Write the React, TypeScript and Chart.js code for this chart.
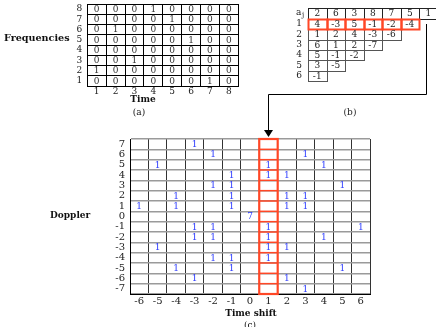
import React, { useEffect, useRef } from 'react';
import { Chart, registerables } from 'chart.js';

Chart.register(...registerables);

const SERIF = "'DejaVu Serif', 'Liberation Serif', serif";
const TEXT = '#222222';
const RED = '#ff4726';
const BLUE = '#2e3dff';

// ---- panel (a): time / frequency occupancy ----
const timeSlots = [1, 2, 3, 4, 5, 6, 7, 8];
const freqSlots = [1, 2, 3, 4, 5, 6, 7, 8];
const toneAtTime = [2, 6, 3, 8, 7, 5, 1, 0];

// ---- panel (b): difference triangle ----
const sequenceA = [2, 6, 3, 8, 7, 5, 1];
const diffLevels = [1, 2, 3, 4, 5, 6];
const diffLevel1 = [4, -3, 5, -1, -2, -4];
const diffLevel2 = [1, 2, 4, -3, -6];
const diffLevel3 = [6, 1, 2, -7];
const diffLevel4 = [5, -1, -2];
const diffLevel5 = [3, -5];
const diffLevel6 = [-1];

// ---- panel (c): ambiguity (time shift x Doppler) ----
const timeShifts = [-6, -5, -4, -3, -2, -1, 0, 1, 2, 3, 4, 5, 6];
const dopplerShifts = [7, 6, 5, 4, 3, 2, 1, 0, -1, -2, -3, -4, -5, -6, -7];
const hitShiftsByDoppler = [
  [-3],
  [-2, 3],
  [-5, 1, 4],
  [-1, 1, 2],
  [-2, -1, 5],
  [-4, -1, 2, 3],
  [-6, -4, -1, 2, 3],
  [0],
  [-3, -2, 1, 6],
  [-3, -2, 1, 4],
  [-5, 1, 2],
  [-2, -1, 1],
  [-4, -1, 5],
  [-3, 2],
  [3],
];
const hitCountsByDoppler = [
  [1],
  [1, 1],
  [1, 1, 1],
  [1, 1, 1],
  [1, 1, 1],
  [1, 1, 1, 1],
  [1, 1, 1, 1, 1],
  [7],
  [1, 1, 1, 1],
  [1, 1, 1, 1],
  [1, 1, 1],
  [1, 1, 1],
  [1, 1, 1],
  [1, 1],
  [1],
];
const highlightedShift = 1;

const isInt = (v: number) => Math.abs(v - Math.round(v)) < 1e-9;
const halfGrid = (color: string, width: number) => ({
  drawTicks: false,
  lineWidth: width,
  color: (c: any) => (c.tick && !isInt(c.tick.value) ? color : 'rgba(0,0,0,0)'),
});
const sized = (dim: 'width' | 'height', size: number) => (s: any) => {
  s[dim] = size;
  s.paddingLeft = 0;
  s.paddingRight = 0;
  s.paddingTop = 0;
  s.paddingBottom = 0;
};
const tickFont = { family: SERIF, size: 9 };
const intLabel = (v: any) => (isInt(Number(v)) ? String(v) : '');

const cellTextPlugin = (id: string, color: string, font: string) => ({
  id,
  afterDatasetsDraw(chart: any) {
    const { ctx, scales } = chart;
    ctx.save();
    ctx.fillStyle = color;
    ctx.font = font;
    ctx.textAlign = 'center';
    ctx.textBaseline = 'middle';
    chart.data.datasets[0].data.forEach((p: any) => {
      ctx.fillText(String(p.v), scales.x.getPixelForValue(p.x), scales.y.getPixelForValue(p.y) + 0.5);
    });
    ctx.restore();
  },
});

export default function App() {
  const refA = useRef<HTMLCanvasElement>(null);
  const refB = useRef<HTMLCanvasElement>(null);
  const refC = useRef<HTMLCanvasElement>(null);

  useEffect(() => {
    const charts: Chart[] = [];

    // ---------- (a) ----------
    const cellsA = timeSlots.flatMap((t, i) =>
      freqSlots.map((f) => ({ x: t, y: f, v: toneAtTime[i] === f ? 1 : 0 }))
    );
    const titlesA = {
      id: 'titlesA',
      afterDraw(chart: any) {
        const { ctx, scales } = chart;
        ctx.save();
        ctx.fillStyle = '#111';
        ctx.font = `bold 9.6px ${SERIF}`;
        ctx.textBaseline = 'middle';
        ctx.textAlign = 'left';
        ctx.fillText('Frequencies', 4, scales.y.getPixelForValue(5) - 1.5);
        ctx.textAlign = 'center';
        ctx.font = `bold 9px ${SERIF}`;
        ctx.fillText('Time', 143, 99.5);
        ctx.font = `9px ${SERIF}`;
        ctx.fillText('(a)', 139, 113);
        ctx.restore();
      },
    };
    charts.push(
      new Chart(refA.current as HTMLCanvasElement, {
        type: 'scatter',
        data: { datasets: [{ data: cellsA, pointRadius: 0 } as any] },
        options: {
          animation: false,
          responsive: false,
          events: [],
          layout: { padding: { left: 73.3, right: 6.7, top: 4, bottom: 22 } },
          plugins: { legend: { display: false }, tooltip: { enabled: false } },
          scales: {
            x: {
              type: 'linear',
              min: 0.5,
              max: 8.5,
              afterFit: sized('height', 14),
              ticks: { stepSize: 0.5, autoSkip: false, maxRotation: 0, padding: 0, color: TEXT, font: tickFont, callback: intLabel },
              grid: halfGrid('#000', 1) as any,
              border: { display: true, color: '#000', width: 1 },
            },
            y: {
              type: 'linear',
              min: 0.5,
              max: 8.5,
              afterFit: sized('width', 14),
              ticks: { stepSize: 0.5, autoSkip: false, padding: 5, color: TEXT, font: tickFont, callback: intLabel },
              grid: halfGrid('#000', 1) as any,
              border: { display: true, color: '#000', width: 1 },
            },
          },
        } as any,
        plugins: [cellTextPlugin('textA', '#333', `9px ${SERIF}`), titlesA],
      })
    );

    // ---------- (b) ----------
    const diffTriangle = [diffLevel1, diffLevel2, diffLevel3, diffLevel4, diffLevel5, diffLevel6];
    const cellsB = [
      ...sequenceA.map((v, i) => ({ x: i + 1, y: 0, v })),
      ...diffTriangle.flatMap((row, r) => row.map((v, i) => ({ x: i + 1, y: diffLevels[r], v }))),
    ];
    const tableB = {
      id: 'tableB',
      beforeDatasetsDraw(chart: any) {
        const { ctx, scales } = chart;
        const xs = scales.x;
        const ys = scales.y;
        const rect = (p: any) => {
          const x0 = Math.round(xs.getPixelForValue(p.x - 0.5)) + 0.5;
          const x1 = Math.round(xs.getPixelForValue(p.x + 0.5)) + 0.5;
          const y0 = Math.round(ys.getPixelForValue(p.y - 0.5)) + 0.5;
          const y1 = Math.round(ys.getPixelForValue(p.y + 0.5)) + 0.5;
          return [x0, y0, x1 - x0, y1 - y0];
        };
        ctx.save();
        const data = chart.data.datasets[0].data;
        data.filter((p: any) => p.y >= 2).forEach((p: any) => {
          const [x, y, w, h] = rect(p);
          ctx.strokeStyle = '#555';
          ctx.lineWidth = 1;
          ctx.strokeRect(x, y, w, h);
        });
        data.filter((p: any) => p.y === 0).forEach((p: any) => {
          const [x, y, w, h] = rect(p);
          ctx.strokeStyle = '#222';
          ctx.lineWidth = 1;
          ctx.strokeRect(x, y, w, h);
        });
        data.filter((p: any) => p.y === 1).forEach((p: any) => {
          const [x, y, w, h] = rect(p);
          ctx.strokeStyle = RED;
          ctx.lineWidth = 2;
          ctx.strokeRect(x, y, w, h);
        });
        ctx.restore();
      },
      afterDraw(chart: any) {
        const { ctx, scales } = chart;
        const yA = scales.y.getPixelForValue(0);
        const xl = scales.x.left - 12;
        ctx.save();
        ctx.fillStyle = TEXT;
        ctx.font = `9px ${SERIF}`;
        ctx.textBaseline = 'middle';
        ctx.textAlign = 'left';
        ctx.fillText('a', xl, yA - 1);
        ctx.font = `7px ${SERIF}`;
        ctx.fillText('j', xl + 6, yA + 2);
        ctx.font = `9px ${SERIF}`;
        ctx.textAlign = 'center';
        ctx.fillText('(b)', 100, 113);
        ctx.restore();
      },
    };
    charts.push(
      new Chart(refB.current as HTMLCanvasElement, {
        type: 'scatter',
        data: { datasets: [{ data: cellsB, pointRadius: 0 } as any] },
        options: {
          animation: false,
          responsive: false,
          events: [],
          layout: { padding: { left: 44, right: 12.5, top: 8.3, bottom: 43.9 } },
          plugins: { legend: { display: false }, tooltip: { enabled: false } },
          scales: {
            x: { type: 'linear', min: 0.5, max: 7.5, display: false },
            y: {
              type: 'linear',
              min: -0.5,
              max: 6.5,
              reverse: true,
              afterFit: sized('width', 14),
              ticks: {
                stepSize: 0.5,
                autoSkip: false,
                padding: 6,
                color: TEXT,
                font: tickFont,
                callback: (v: any) => (isInt(v) && v >= 1 ? String(diffLevels[v - 1]) : ''),
              },
              grid: { display: false, drawTicks: false },
              border: { display: false },
            },
          },
        } as any,
        plugins: [tableB, cellTextPlugin('textB', TEXT, `9px ${SERIF}`)],
      })
    );

    // ---------- (c) ----------
    const cellsC = dopplerShifts.flatMap((d, r) =>
      hitShiftsByDoppler[r].map((s, k) => ({ x: s, y: d, v: hitCountsByDoppler[r][k] }))
    );
    const decoC = {
      id: 'decoC',
      beforeDatasetsDraw(chart: any) {
        const { ctx, scales } = chart;
        const xs = scales.x;
        const ys = scales.y;
        const x0 = xs.getPixelForValue(highlightedShift - 0.5);
        const x1 = xs.getPixelForValue(highlightedShift + 0.5);
        const yTop = ys.getPixelForValue(dopplerShifts[0] + 0.5);
        const yBot = ys.getPixelForValue(dopplerShifts[dopplerShifts.length - 1] - 0.5);
        ctx.save();
        ctx.strokeStyle = RED;
        ctx.lineWidth = 1.5;
        dopplerShifts.slice(0, -1).forEach((d) => {
          const py = ys.getPixelForValue(d - 0.5);
          ctx.beginPath();
          ctx.moveTo(x0, py);
          ctx.lineTo(x1, py);
          ctx.stroke();
        });
        ctx.lineWidth = 2.2;
        ctx.strokeRect(x0, yTop, x1 - x0, yBot - yTop);
        ctx.restore();
      },
      afterDraw(chart: any) {
        const { ctx, scales, chartArea } = chart;
        const cx = Math.round(scales.x.getPixelForValue(highlightedShift)) + 0.5;
        ctx.save();
        ctx.strokeStyle = '#000';
        ctx.fillStyle = '#000';
        ctx.lineWidth = 1;
        ctx.beginPath();
        ctx.moveTo(426.5, 24);
        ctx.lineTo(426.5, 94.5);
        ctx.lineTo(cx, 94.5);
        ctx.lineTo(cx, chartArea.top - 7);
        ctx.stroke();
        ctx.beginPath();
        ctx.moveTo(cx - 4.5, chartArea.top - 9);
        ctx.lineTo(cx + 4.5, chartArea.top - 9);
        ctx.lineTo(cx, chartArea.top - 2);
        ctx.closePath();
        ctx.fill();
        ctx.fillStyle = '#111';
        ctx.font = `bold 9px ${SERIF}`;
        ctx.textBaseline = 'middle';
        ctx.textAlign = 'left';
        ctx.fillText('Doppler', 50, scales.y.getPixelForValue(0) - 1);
        ctx.textAlign = 'center';
        ctx.fillText('Time shift', 251, 314);
        ctx.font = `9px ${SERIF}`;
        ctx.fillText('(c)', 250, 326);
        ctx.restore();
      },
    };
    charts.push(
      new Chart(refC.current as HTMLCanvasElement, {
        type: 'scatter',
        data: { datasets: [{ data: cellsC, pointRadius: 0 } as any] },
        options: {
          animation: false,
          responsive: false,
          events: [],
          layout: { padding: { left: 110, right: 66, top: 139, bottom: 19 } },
          plugins: { legend: { display: false }, tooltip: { enabled: false } },
          scales: {
            x: {
              type: 'linear',
              min: timeShifts[0] - 0.5,
              max: timeShifts[timeShifts.length - 1] + 0.5,
              afterFit: sized('height', 14),
              ticks: { stepSize: 0.5, autoSkip: false, maxRotation: 0, padding: 1, color: TEXT, font: { family: SERIF, size: 10 }, callback: intLabel },
              grid: halfGrid('#333', 1) as any,
              border: { display: true, color: '#000', width: 1 },
            },
            y: {
              type: 'linear',
              min: dopplerShifts[dopplerShifts.length - 1] - 0.5,
              max: dopplerShifts[0] + 0.5,
              afterFit: sized('width', 20),
              ticks: { stepSize: 0.5, autoSkip: false, padding: 5, color: TEXT, font: { family: SERIF, size: 10 }, callback: intLabel },
              grid: halfGrid('#9a9a9a', 1.5) as any,
              border: { display: true, color: '#000', width: 1 },
            },
          },
        } as any,
        plugins: [decoC, cellTextPlugin('textC', BLUE, `9px ${SERIF}`)],
      })
    );

    return () => charts.forEach((c) => c.destroy());
  }, []);

  return (
    <div style={{ position: 'fixed', left: 0, top: 0, width: 436, height: 327, overflow: 'hidden', background: '#fff' }}>
      <canvas ref={refA} width={245} height={122} style={{ position: 'absolute', left: 0, top: 0, width: 245, height: 122 }} />
      <canvas ref={refB} width={200} height={125} style={{ position: 'absolute', left: 250, top: 0, width: 200, height: 125 }} />
      <canvas ref={refC} width={436} height={327} style={{ position: 'absolute', left: 0, top: 0, width: 436, height: 327 }} />
    </div>
  );
}
